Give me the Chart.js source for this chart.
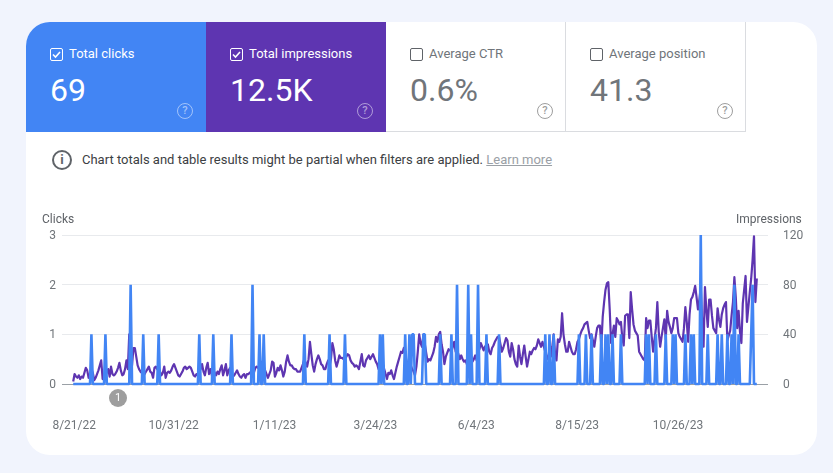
<!DOCTYPE html>
<html>
<head>
<meta charset="utf-8">
<script src="https://cdn.jsdelivr.net/npm/chart.js@4"></script>
<style>
html, body { margin: 0; padding: 0; }
body { width: 833px; height: 473px; background: #f1f4fd; position: relative; overflow: hidden; font-family: Roboto, sans-serif; }
#panel { position: absolute; left: 26px; top: 22px; width: 791px; height: 433px; background: #fff; border-radius: 24px; overflow: hidden; }
.tile { position: absolute; top: 0; width: 180px; height: 110px; box-sizing: border-box; color: #70757a; }
.tile .name { position: absolute; left: 43px; top: 24px; font-size: 13px; line-height: 16px; white-space: nowrap; }
.tile .num { position: absolute; left: 24px; top: 48px; font-size: 32px; line-height: 40px; white-space: nowrap; }
.tile .box { position: absolute; left: 24px; top: 26px; width: 13px; height: 13px; box-sizing: border-box; border: 1px solid #5f6368; border-radius: 2px; }
.tile .help { position: absolute; left: 151px; top: 81px; width: 16px; height: 16px; box-sizing: border-box; border: 1.5px solid #9e9e9e; border-radius: 50%; font-size: 11px; font-weight: 500; line-height: 13px; text-align: center; color: #9e9e9e; }
.tile.on { color: #fff; }
.tile.on .box { border-color: #fff; }
.tile.on .box svg { position: absolute; left: 0; top: 0; }
.tile.on .help { border-color: rgba(255,255,255,.5); color: rgba(255,255,255,.5); }
.tile.off { border-right: 1px solid #dadce0; border-bottom: 1px solid #dadce0; }
#notice { position: absolute; left: 82px; top: 151px; font-size: 13px; line-height: 17px; color: #3c4043; white-space: nowrap; }
#notice a { color: #9aa0a6; text-decoration: underline; }
#info { position: absolute; left: 52px; top: 150px; width: 20px; height: 20px; box-sizing: border-box; border: 2px solid #5f6368; border-radius: 50%; font-size: 13px; font-weight: 700; line-height: 16px; text-align: center; color: #5f6368; }
#chartWrap { position: absolute; left: 0; top: 200px; width: 833px; height: 240px; }
.axisName { position: absolute; top: 212px; font-size: 12px; line-height: 15px; color: #5f6368; }
#marker { position: absolute; left: 109px; top: 389px; width: 18px; height: 18px; border-radius: 50%; background: #9e9e9e; color: #fff; font-size: 11px; line-height: 18px; text-align: center; }
</style>
</head>
<body>
<div id="panel"></div>
<div class="tile on" style="left:26px;top:22px;background:#4285f4;border-top-left-radius:24px">
  <div class="box"><svg width="11" height="11" viewBox="0 0 11 11"><path d="M2 5.5 L4.5 8 L9 3" fill="none" stroke="#fff" stroke-width="1.6"/></svg></div>
  <div class="name">Total clicks</div><div class="num">69</div><div class="help">?</div>
</div>
<div class="tile on" style="left:206px;top:22px;background:#5e35b1">
  <div class="box"><svg width="11" height="11" viewBox="0 0 11 11"><path d="M2 5.5 L4.5 8 L9 3" fill="none" stroke="#fff" stroke-width="1.6"/></svg></div>
  <div class="name">Total impressions</div><div class="num">12.5K</div><div class="help">?</div>
</div>
<div class="tile off" style="left:386px;top:22px">
  <div class="box"></div><div class="name">Average CTR</div><div class="num">0.6%</div><div class="help">?</div>
</div>
<div class="tile off" style="left:566px;top:22px">
  <div class="box"></div><div class="name">Average position</div><div class="num">41.3</div><div class="help">?</div>
</div>
<div id="info">i</div>
<div id="notice">Chart totals and table results might be partial when filters are applied. <a>Learn more</a></div>
<div id="chartWrap"><canvas id="myCanvas" width="833" height="240"></canvas></div>
<div class="axisName" style="left:42px">Clicks</div>
<div class="axisName" style="left:736px">Impressions</div>
<div id="marker">1</div>

<script>
const tickDays = [0, 71, 143, 215, 287, 359, 431];
const tickLabels = ["8/21/22", "10/31/22", "1/11/23", "3/24/23", "6/4/23", "8/15/23", "10/26/23"];
const clickTicks = [0, 1, 2, 3];
const impressionTicks = [0, 40, 80, 120];

// one value per day
const clicks = [
0,0,0,0,0,0,0,0,0,0,0,0,0,1,0,0,0,0,0,0,
0,0,0,1,0,0,0,0,0,0,0,0,0,0,0,0,0,0,0,0,
0,2,0,0,0,0,0,0,0,0,1,0,0,0,0,0,0,0,0,0,
0,1,0,0,0,0,0,0,0,0,0,0,0,0,0,0,0,0,0,0,
0,0,0,0,0,0,0,0,0,0,1,0,0,0,0,0,0,0,0,0,
1,0,0,0,0,0,0,0,0,0,0,0,0,1,0,0,0,0,0,0,
0,0,0,0,0,0,0,0,2,0,0,0,0,1,0,0,1,0,0,0,
0,0,0,0,0,0,0,0,0,0,0,0,0,0,0,0,0,0,0,0,
0,0,0,0,0,1,0,0,0,0,0,0,0,0,0,0,0,0,0,0,
0,0,0,1,0,0,0,0,0,0,0,0,0,0,1,0,0,0,0,0,
0,0,0,0,0,0,0,0,0,0,0,0,0,0,0,0,0,0,0,1,
0,1,0,0,0,0,0,0,0,0,0,0,0,0,0,0,0,1,0,0,
1,0,1,1,0,0,0,0,0,0,1,1,0,0,0,0,0,0,0,0,
0,0,1,0,0,0,0,0,0,0,1,0,0,0,2,0,0,0,0,0,
0,0,2,0,1,0,0,0,0,2,0,0,0,0,0,1,0,0,0,0,
0,0,0,0,1,0,0,0,0,0,0,0,0,0,0,0,0,0,0,0,
0,0,0,0,0,0,0,0,0,0,0,0,0,0,0,0,0,1,0,0,
1,0,0,1,0,0,0,0,0,0,0,0,0,0,0,0,0,0,0,0,
0,1,0,0,0,0,1,0,0,0,1,0,0,0,0,0,0,1,0,0,
1,0,1,0,0,1,0,0,0,0,0,1,0,0,0,0,0,0,0,0,
0,0,0,0,0,0,0,0,0,1,0,1,0,0,0,0,1,0,0,0,
0,0,0,1,0,0,0,0,1,0,1,0,0,0,0,0,0,1,0,0,
0,1,0,1,0,0,0,0,3,0,0,0,0,1,0,0,0,0,0,0,
1,0,0,1,0,0,0,1,0,0,1,0,2,0,0,1,0,0,0,0,
0,0,0,0,1,2,0,0,0
];
const impressions = [
2,8,6,5,7,4,6,5,9,13,11,5,8,12,9,3,5,8,11,15,
19,4,6,7,9,12,6,14,8,7,8,10,13,17,11,7,8,12,19,12,
40,28,15,29,29,22,15,12,10,9,7,8,10,12,14,10,9,5,13,14,
12,13,10,7,9,14,5,9,10,9,11,14,16,13,10,7,6,8,10,13,
14,12,13,14,13,10,7,6,8,7,10,12,16,10,7,13,17,8,12,7,
12,9,7,10,8,12,15,7,11,16,7,11,13,7,6,7,9,11,8,6,
5,7,8,5,8,8,9,10,8,9,13,14,13,14,15,18,14,11,8,5,
8,11,18,17,6,9,13,11,15,11,6,10,18,23,18,15,15,13,12,12,
10,10,10,13,16,20,17,14,20,34,24,15,10,16,20,23,20,16,15,12,
12,16,19,14,20,33,28,19,14,18,23,21,21,20,20,22,24,23,19,17,
16,14,15,14,12,18,24,15,14,19,21,23,20,22,24,21,18,16,12,15,
20,16,12,8,4,9,8,11,7,4,9,14,18,22,26,25,29,24,18,15,
17,15,12,10,7,14,26,40,33,30,40,32,25,18,20,19,22,25,30,38,
34,40,42,32,26,16,22,25,28,27,26,30,34,26,27,24,20,23,20,18,
19,16,14,17,21,18,20,23,19,26,28,33,30,27,30,32,32,26,24,29,
31,34,36,38,38,32,26,29,33,37,35,26,22,33,28,20,16,14,31,22,
16,24,31,22,14,20,26,24,27,29,28,31,36,33,30,34,30,26,22,20,
28,22,30,40,24,19,36,34,38,57,40,32,26,26,34,30,26,24,24,28,
34,36,40,43,45,48,49,50,43,37,40,35,30,38,45,47,47,31,54,66,
76,81,82,60,33,40,47,38,53,51,48,50,37,31,55,56,56,37,74,60,
48,43,41,39,26,24,22,20,19,53,45,51,51,38,26,36,45,66,42,30,
38,45,52,36,59,50,46,41,45,53,53,53,41,38,36,34,45,62,50,34,
56,68,70,74,79,70,60,68,78,50,30,78,60,46,68,68,55,45,43,41,
61,52,46,56,61,64,66,35,39,43,55,66,86,70,45,59,42,33,65,76,
87,50,62,74,85,100,119,66,85
];

function toPoints(values) {
    return values.map(function(v, i) { return { x: i, y: v }; });
}

const ctx = document.getElementById('myCanvas').getContext('2d');

const chart = new Chart(ctx, {
    type: 'line',
    data: {
        datasets: [{
            label: 'Clicks',
            data: toPoints(clicks),
            yAxisID: 'yClicks',
            borderColor: '#4285f4',
            borderWidth: 2.6,
            borderJoinStyle: 'bevel',
            pointRadius: 0,
            tension: 0,
            clip: false,
            order: 1
        }, {
            label: 'Impressions',
            data: toPoints(impressions),
            yAxisID: 'yImpressions',
            borderColor: '#5e35b1',
            borderWidth: 2.2,
            borderJoinStyle: 'round',
            pointRadius: 0,
            tension: 0,
            clip: false,
            order: 2
        }]
    },
    options: {
        responsive: false,
        animation: false,
        layout: { padding: { top: 35 } },
        plugins: { legend: { display: false }, tooltip: { enabled: false } },
        scales: {
            x: {
                type: 'linear',
                min: -8,
                max: 496,
                grid: { display: false },
                border: { display: false },
                afterBuildTicks: function(scale) {
                    scale.ticks = tickDays.map(function(d) { return { value: d }; });
                },
                afterFit: function(scale) { scale.height = 56; },
                ticks: {
                    autoSkip: false,
                    maxRotation: 0,
                    padding: 27,
                    labelOffset: 1,
                    color: '#70757a',
                    font: { family: 'Roboto', size: 12 },
                    callback: function(value) { return tickLabels[tickDays.indexOf(value)]; }
                }
            },
            yClicks: {
                position: 'left',
                min: 0,
                max: 3,
                afterBuildTicks: function(scale) {
                    scale.ticks = clickTicks.map(function(v) { return { value: v }; });
                },
                afterFit: function(scale) { scale.width = 62; },
                border: { display: false },
                grid: {
                    drawTicks: false,
                    color: function(c) { return c.tick.value === 0 ? '#9aa0a6' : '#e8eaed'; }
                },
                ticks: { padding: 6, labelOffset: 1, color: '#70757a', font: { family: 'Roboto', size: 12 } }
            },
            yImpressions: {
                position: 'right',
                min: 0,
                max: 120,
                afterBuildTicks: function(scale) {
                    scale.ticks = impressionTicks.map(function(v) { return { value: v }; });
                },
                afterFit: function(scale) { scale.width = 65; },
                border: { display: false },
                grid: { display: false },
                ticks: { padding: 7, labelOffset: 1, color: '#70757a', font: { family: 'Roboto', size: 12 } }
            }
        }
    }
});
</script>
</body>
</html>
